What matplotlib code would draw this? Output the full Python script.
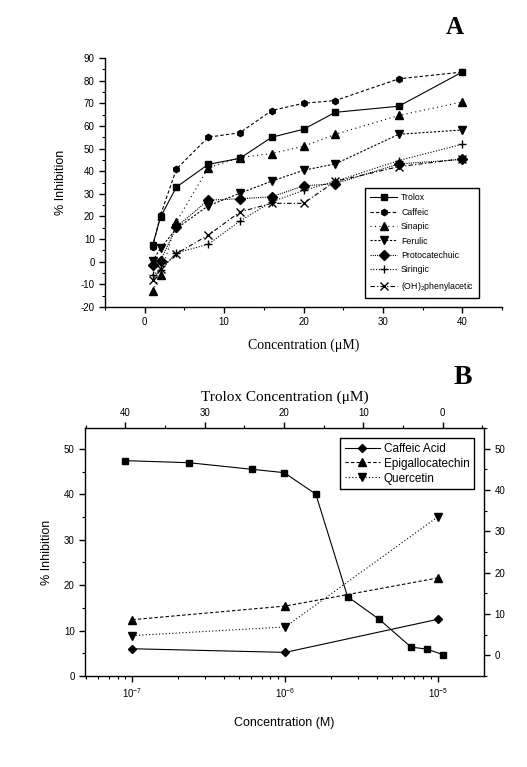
import matplotlib
matplotlib.use("Agg")
import matplotlib.pyplot as plt
from matplotlib.ticker import MultipleLocator, LogLocator, NullFormatter

plt.rcParams['font.family'] = ['Liberation Sans', 'DejaVu Sans']
plt.rcParams['mathtext.fontset'] = 'custom'
plt.rcParams['mathtext.rm'] = 'Liberation Sans'
plt.rcParams['axes.unicode_minus'] = False

# ---------------- Panel A data ----------------
conc_a = [1, 2, 4, 8, 12, 16, 20, 24, 32, 40]
trolox_a = [7.3, 19.8, 33, 43, 45.7, 55, 58.5, 66, 68.7, 83.8]
caffeic_a = [6.5, 20.7, 41, 55, 57, 66.8, 70, 71.2, 80.8, 83.8]
sinapic_a = [-13, -5.7, 17.6, 41.5, 46, 47.8, 51, 56.3, 64.6, 70.6]
ferulic_a = [0.3, 6.0, 14.7, 24.7, 30.3, 35.6, 40.4, 43.2, 56.3, 58.2]
protocatechuic_a = [-1.5, 0.5, 15.4, 27.2, 27.8, 28.7, 33.5, 34.5, 43.2, 45.2]
siringic_a = [-5.7, -3.8, 3.9, 7.7, 18.0, 26.5, 31.5, 35.5, 44.7, 51.9]
phenylacetic_a = [-8.0, -3.0, 3.6, 11.7, 22.0, 25.8, 25.8, 35.5, 42.0, 45.5]
labels_a = ["Trolox", "Caffeic", "Sinapic", "Ferulic", "Protocatechuic",
            "Siringic", "(OH)$_2$phenylacetic"]

# ---------------- Panel B data ----------------
conc_b = [1e-7, 1e-6, 1e-5]
caffeic_b = [6.0, 5.2, 12.5]
epigallo_b = [12.4, 15.4, 21.6]
quercetin_b = [8.9, 10.8, 35.1]
labels_b = ["Caffeic Acid", "Epigallocatechin", "Quercetin"]
trolox_conc_b = [40, 32, 24, 20, 16, 12, 8, 4, 2, 0]
trolox_inh_b = [47.1, 46.6, 45.0, 44.2, 39.0, 14.2, 8.7, 2.0, 1.5, 0.2]

W, H = 527, 767
fig = plt.figure(figsize=(W / 100, H / 100), dpi=100)

def frac(l, t, r, b):
    return [l / W, 1 - b / H, (r - l) / W, (b - t) / H]

# ================= Panel A =================
axA = fig.add_axes(frac(105, 58, 502, 307))
series_a = [trolox_a, caffeic_a, sinapic_a, ferulic_a, protocatechuic_a,
            siringic_a, phenylacetic_a]
markers_a = ['s', 'h', '^', 'v', 'D', '+', 'x']
msizes_a = [5, 4.5, 6, 6, 5, 6, 5.5]
styles_a = ['-', (0, (3, 2)), (0, (1, 3)), (0, (2, 1.5)), (0, (1, 1)),
            (0, (1, 1.5)), (0, (4, 2, 1, 2))]
for y, m, ms, ls, lab in zip(series_a, markers_a, msizes_a, styles_a, labels_a):
    axA.plot(conc_a, y, color='black', linestyle=ls, linewidth=0.8,
             marker=m, markersize=ms, markeredgewidth=1.0, label=lab)

axA.set_xlim(-5, 45)
axA.set_ylim(-20, 90)
axA.xaxis.set_major_locator(MultipleLocator(10))
axA.xaxis.set_minor_locator(MultipleLocator(5))
axA.yaxis.set_major_locator(MultipleLocator(10))
axA.yaxis.set_minor_locator(MultipleLocator(5))
for s in ['top', 'right']:
    axA.spines[s].set_visible(False)
for s in ['left', 'bottom']:
    axA.spines[s].set_linewidth(1.0)
axA.tick_params(which='major', direction='out', length=4, width=1, labelsize=7)
axA.tick_params(which='minor', direction='out', length=2.5, width=0.8)
axA.set_xlabel("Concentration (\u03bcM)", family=['Liberation Serif', 'DejaVu Serif'],
               fontsize=10, labelpad=8)
axA.set_ylabel("% Inhibition", fontsize=9, labelpad=10)
legA = axA.legend(loc='lower right', bbox_to_anchor=(0.943, 0.036), fontsize=6.3,
                  frameon=True, fancybox=False, edgecolor='black', framealpha=1,
                  handlelength=3.0, labelspacing=0.62, borderpad=0.6,
                  handletextpad=0.5, borderaxespad=0)
legA.get_frame().set_linewidth(1.0)
fig.text(455 / W, 1 - 27 / H, "A", family=['Liberation Serif', 'DejaVu Serif'],
         fontsize=18, fontweight='bold', ha='center', va='center')

# ================= Panel B =================
rectB = frac(85, 428, 484, 676)
axB = fig.add_axes(rectB)
axB.set_xscale('log')
axB.plot(conc_b, caffeic_b, color='black', linestyle='-', linewidth=0.8,
         marker='D', markersize=4, label=labels_b[0])
axB.plot(conc_b, epigallo_b, color='black', linestyle=(0, (3, 2)), linewidth=0.8,
         marker='^', markersize=6, label=labels_b[1])
axB.plot(conc_b, quercetin_b, color='black', linestyle=(0, (1, 2)), linewidth=0.8,
         marker='v', markersize=6, label=labels_b[2])
axB.set_xlim(10 ** -7.31, 10 ** -4.70)
axB.set_ylim(0, 54.6)
axB.xaxis.set_major_locator(LogLocator(base=10, numticks=10))
axB.xaxis.set_minor_locator(LogLocator(base=10, subs=range(2, 10), numticks=10))
axB.xaxis.set_minor_formatter(NullFormatter())
axB.yaxis.set_major_locator(MultipleLocator(10))
axB.yaxis.set_minor_locator(MultipleLocator(5))
axB.tick_params(which='major', direction='out', length=4, width=1, labelsize=7)
axB.tick_params(which='minor', direction='out', length=2.5, width=0.8)
for s in axB.spines.values():
    s.set_linewidth(1.0)
axB.set_xlabel("Concentration (M)", fontsize=9, labelpad=12)
axB.set_ylabel("% Inhibition", fontsize=9, labelpad=8)

axT = fig.add_axes(rectB, frameon=False)
axT.plot(trolox_conc_b, trolox_inh_b, color='black', linestyle='-', linewidth=0.8,
         marker='s', markersize=5)
axT.set_xlim(45.1, -5.2)
axT.set_ylim(-5, 55)
axT.xaxis.tick_top()
axT.yaxis.tick_right()
axT.xaxis.set_label_position('top')
axT.xaxis.set_major_locator(MultipleLocator(10))
axT.xaxis.set_minor_locator(MultipleLocator(5))
axT.yaxis.set_major_locator(MultipleLocator(10))
axT.yaxis.set_minor_locator(MultipleLocator(5))
axT.set_yticks([0, 10, 20, 30, 40, 50])
axT.tick_params(which='major', direction='out', length=4, width=1, labelsize=7)
axT.tick_params(which='minor', direction='out', length=2.5, width=0.8)
axT.set_xlabel("Trolox Concentration (\u03bcM)",
               family=['Liberation Serif', 'DejaVu Serif'], fontsize=11, labelpad=5)

legB = axB.legend(loc='upper right', bbox_to_anchor=(0.975, 0.96), fontsize=8.5,
                  frameon=True, fancybox=False, edgecolor='black', framealpha=1,
                  handlelength=3.0, labelspacing=0.25, borderpad=0.4,
                  handletextpad=0.3, borderaxespad=0)
legB.get_frame().set_linewidth(1.0)
legB.set_zorder(5)
fig.text(463 / W, 1 - 377 / H, "B", family=['Liberation Serif', 'DejaVu Serif'],
         fontsize=20, fontweight='bold', ha='center', va='center')

fig.savefig("out.png", dpi=100)
